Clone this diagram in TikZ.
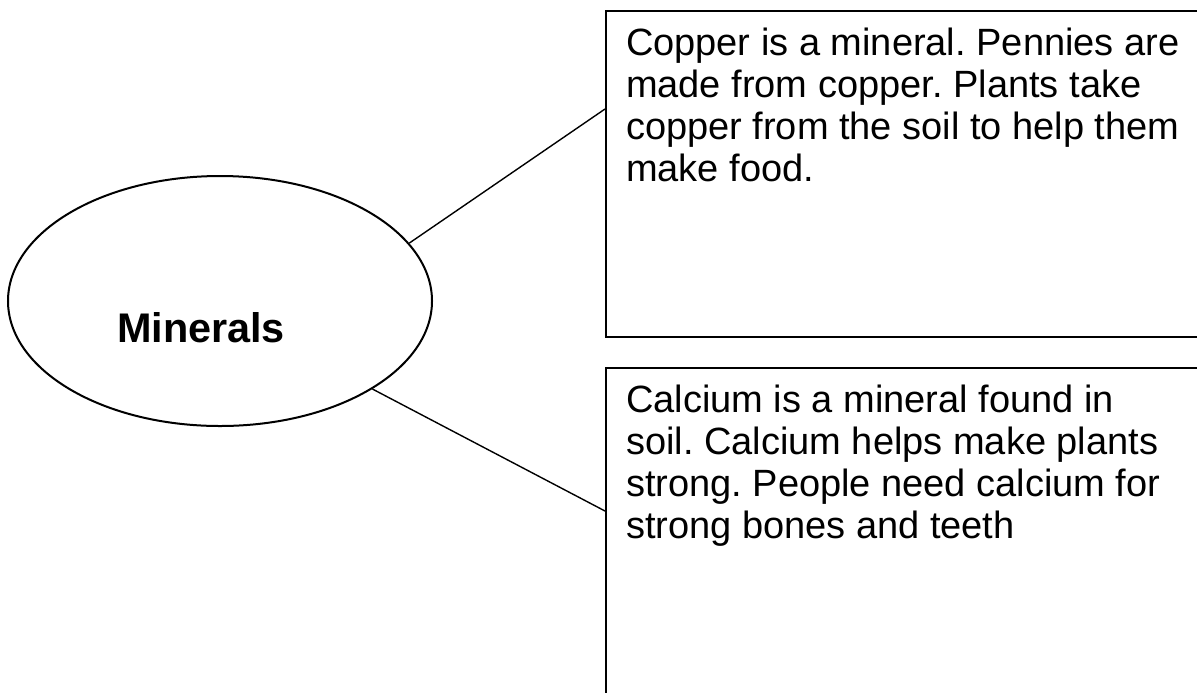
\documentclass[tikz,border=0pt]{standalone}
\usepackage{fontspec}
\setsansfont{Liberation Sans}
\usepackage{tikz}
\usetikzlibrary{positioning,shapes.geometric}
\frenchspacing

\begin{document}
\begin{tikzpicture}[
  x=0.5pt, y=-0.5pt,
  font=\sffamily,
  topic/.style={
    draw=black,
    ellipse,
    line width=1pt,
    inner sep=0pt,
    minimum width=212pt,
    minimum height=125pt
  },
  topiclabel/.style={
    font=\sffamily\bfseries\fontsize{20.7}{24}\selectfont,
    inner sep=0pt
  },
  factcard/.style={
    draw=black,
    line width=1pt,
    inner xsep=10pt,
    inner ysep=8.6pt,
    anchor=north west,
    font=\sffamily\fontsize{19}{21}\selectfont
  },
  link/.style={
    draw=black,
    line width=0.7pt
  }
]
  \useasboundingbox (0,0) rectangle (1197,692);
  \clip (0,0) rectangle (1197,692);

  % Topic ellipse
  \node[topic] (minerals) at (220,301) {};
  \node[topiclabel, anchor=base] (mineralsname) at (201,342) {Minerals};

  % Fact cards
  \node[factcard] (copper) at (605,10) {
    \begin{minipage}[t][145.8pt][t]{290pt}
      \raggedright
      Copper is a mineral. Pennies are\\
      made from copper. Plants take\\
      copper from the soil to help them\\
      make food.
    \end{minipage}
  };

  \node[factcard] (calcium) at (605,367) {
    \begin{minipage}[t][170pt][t]{290pt}
      \raggedright
      Calcium is a mineral found in\\
      soil. Calcium helps make plants\\
      strong. People need calcium for\\
      strong bones and teeth
    \end{minipage}
  };

  % Connectors
  \coordinate (copperin) at (605,109);
  \coordinate (calciumin) at (605,511);
  \draw[link] (minerals.17) -- (copperin);
  \draw[link] (minerals.-30) -- (calciumin);

\end{tikzpicture}
\end{document}
